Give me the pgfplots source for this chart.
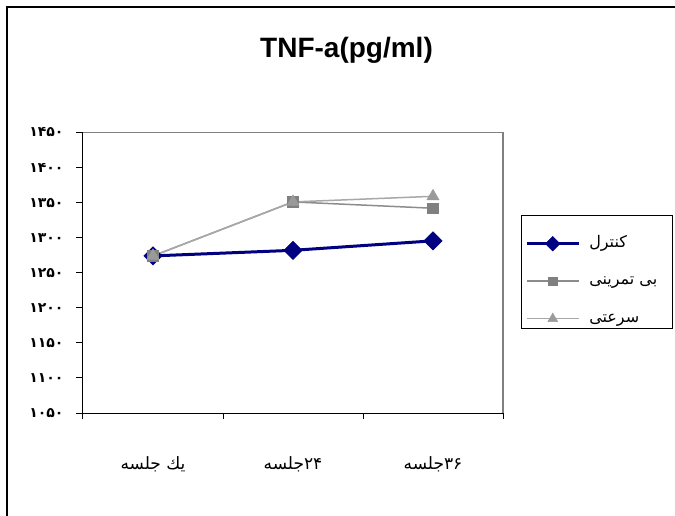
\documentclass[border=0pt]{standalone}
\usepackage{fontspec}
\setmainfont{Liberation Sans}
\newfontfamily\arabicfont[Script=Arabic]{DejaVu Sans}
\TeXXeTstate=1
\usepackage{pgfplots}
\pgfplotsset{compat=1.18}
\definecolor{navyc}{HTML}{000080}
\definecolor{sqline}{HTML}{8C8C8C}
\definecolor{sqmark}{HTML}{808080}
\definecolor{trline}{HTML}{A8A8A8}
\definecolor{trmark}{HTML}{9A9A9A}
\begin{document}
\begin{tikzpicture}[x=1pt,y=1pt]
\useasboundingbox (0,0) rectangle (675,-516);
\draw[line width=2pt] (7,-516) -- (7,-7) -- (675,-7);
\node[anchor=base,font=\bfseries\fontsize{28}{30}\selectfont] at (346.5,-58) {TNF-a(pg/ml)};
\begin{axis}[
  at={(83pt,-413pt)}, anchor=south west,
  scale only axis, width=420pt, height=280.5pt,
  xmin=-0.5, xmax=2.5, ymin=1050, ymax=1450,
  separate axis lines,
  axis x line*=bottom, axis y line*=left,
  axis line style={black, line width=1pt},
  xtick={0,1,2},
  xticklabels={{\beginR يك جلسه\endR},{\mbox{جلسه}\mbox{۲۴}},{\mbox{جلسه}\mbox{۳۶}}},
  minor xtick={-0.5,0.5,1.5,2.5},
  every major x tick/.append style={draw=none},
  tick align=outside,
  major tick length=7pt, minor tick length=6pt,
  tick style={black, line width=1pt},
  ytick={1050,1100,1150,1200,1250,1300,1350,1400,1450},
  yticklabels={۱۰۵۰,۱۱۰۰,۱۱۵۰,۱۲۰۰,۱۲۵۰,۱۳۰۰,۱۳۵۰,۱۴۰۰,۱۴۵۰},
  yticklabel style={font=\arabicfont\bfseries\fontsize{14}{14}\selectfont, xshift=-9pt},
  xticklabel style={font=\arabicfont\fontsize{17}{17}\selectfont, yshift=-33pt},
  clip=false,
  legend style={at={(1.043,0.638)}, anchor=north west, draw=none, fill=none,
    font=\arabicfont\fontsize{16}{16}\selectfont, row sep=18.5pt, inner xsep=4pt, inner ysep=0pt,
    nodes={text height=11pt, text depth=4pt},
    /tikz/every odd column/.append style={column sep=7pt},
    column 2/.style={text width=70pt}},
  legend cell align=left,
  legend image code/.code={
    \draw[#1] (0pt,0pt) -- (26pt,0pt) -- (52pt,0pt);
    \draw[#1,only marks,mark size=0.8\pgfplotmarksize] plot coordinates {(26pt,0pt)};
  },
]
\draw[sqmark, line width=1.5pt] (rel axis cs:0,1) -- (rel axis cs:1,1) -- (rel axis cs:1,0);
\addplot[navyc, line width=3pt, mark=square*, mark size=6.5pt, mark options={rotate=45, fill=navyc, line width=0.5pt}]
  coordinates {(0,1274) (1,1282) (2,1295.5)};
\addlegendentry{\beginR کنترل\endR}
\addplot[sqline, line width=1.5pt, mark=square*, mark size=5.3pt, mark options={fill=sqmark, draw=sqmark, line width=0.5pt}]
  coordinates {(0,1274) (1,1351) (2,1342)};
\addlegendentry{\beginR بی تمرینی\endR}
\addplot[trline, line width=1.5pt, mark=triangle*, mark size=7pt, mark options={fill=trmark, draw=trmark, line width=0.5pt}]
  coordinates {(0,1274) (1,1351) (2,1359)};
\addlegendentry{\beginR سرعتی\endR}
\end{axis}
\draw[line width=0.8pt] (521,-215) rectangle (672,-328);
\end{tikzpicture}
\end{document}
